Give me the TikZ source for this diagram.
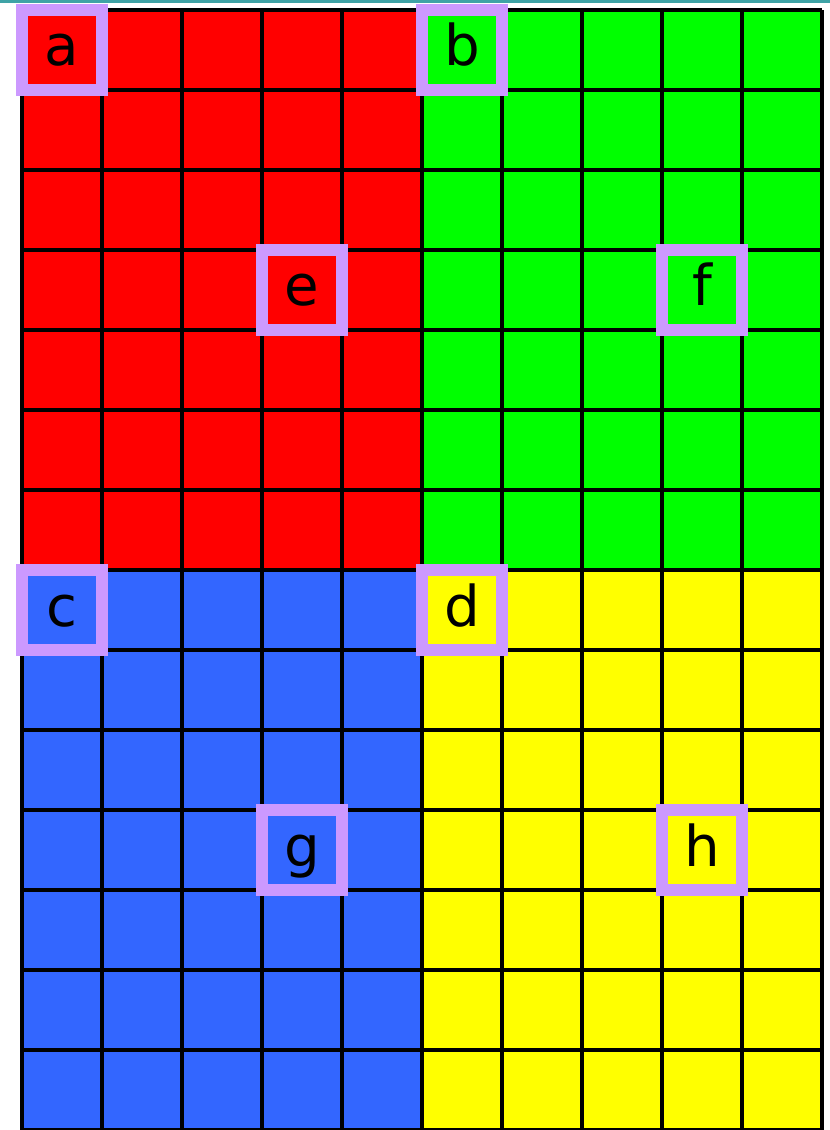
\documentclass[tikz,border=0pt]{standalone}
\usepackage{fontspec}
\setmainfont{DejaVu Sans}
\usepackage{tikz}
\usetikzlibrary{positioning}
\definecolor{cRed}{HTML}{FF0000}
\definecolor{cGreen}{HTML}{00FF00}
\definecolor{cBlue}{HTML}{3366FF}
\definecolor{cYellow}{HTML}{FFFF00}
\definecolor{cMark}{HTML}{CC99FF}
\definecolor{cRule}{HTML}{3FA3A6}
\tikzset{
  gridline/.style={draw=black,line width=1.75pt},
  lbl/.style={draw=cMark,line width=4.6pt,minimum size=1cm,inner sep=0pt,
    text height=0.4cm,text depth=0cm,font=\fontsize{20}{24}\selectfont},
  toprule/.style={draw=cRule,line width=1.1pt}}

\begin{document}
\begin{tikzpicture}
\useasboundingbox (-0.275,0.125) rectangle (10.1,-14.0);
\draw[toprule] (-0.275,0.11) -- (10.1,0.11);
% quadrants
\fill[cRed]    (0,0)  rectangle (5,-7);
\fill[cGreen]  (5,0)  rectangle (10,-7);
\fill[cBlue]   (0,-7) rectangle (5,-14);
\fill[cYellow] (5,-7) rectangle (10,-14);
\draw[gridline] (0,0) grid (10,-14);
% labels
\foreach \n/\x/\y in {a/0.5/-0.5, b/5.5/-0.5, e/3.5/-3.5, f/8.5/-3.5,
                      c/0.5/-7.5, d/5.5/-7.5, g/3.5/-10.5, h/8.5/-10.5}
  \node[lbl] (\n) at (\x,\y) {\n};
\end{tikzpicture}
\end{document}
